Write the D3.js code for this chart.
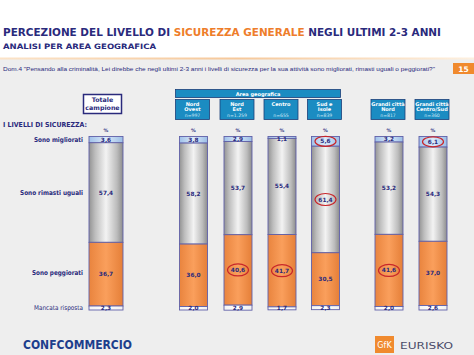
<!DOCTYPE html>
<html><head><meta charset="utf-8">
<script src="https://cdn.jsdelivr.net/npm/d3@7"></script>
<style>
html,body{margin:0;padding:0;background:#fff;}
svg{display:block;font-family:"DejaVu Sans",Verdana,sans-serif;}
</style></head>
<body>
<svg id="chart" width="474" height="355"></svg>
<script>
// ---- DATA ----
const categories = ["Totale campione","Nord Ovest","Nord Est","Centro","Sud e Isole","Grandi città Nord","Grandi città Centro/Sud"];
const migliorati = [3.6, 3.8, 2.9, 1.1, 5.6, 3.2, 6.1];
const uguali     = [57.4, 58.2, 53.7, 55.4, 61.4, 53.2, 54.3];
const peggiorati = [36.7, 36.0, 40.6, 41.7, 30.5, 41.6, 37.0];
const mancata    = [2.3, 2.0, 2.9, 1.7, 2.3, 2.0, 2.6];
const seriesKeys = ["migliorati","uguali","peggiorati","mancata"];
const seriesLabels = ["Sono migliorati","Sono rimasti uguali","Sono peggiorati","Mancata risposta"];
const headerTitles = [null, ["Nord","Ovest"], ["Nord","Est"], ["Centro",""], ["Sud e","Isole"], ["Grandi città","Nord"], ["Grandi città","Centro/Sud"]];
const sampleSizes = [null, "n=997", "n=1.259", "n=655", "n=839", "n=817", "n=360"];
// circled (significant) values: [category index, series key]
const highlighted = [[2,"peggiorati"],[3,"peggiorati"],[4,"migliorati"],[4,"uguali"],[5,"peggiorati"],[6,"migliorati"]];

// ---- LAYOUT ----
const W = 474, H = 355;
const navy = "#2a2a7c", orange = "#ee7d2a", boxBlue = "#1b8cc2";
const svg = d3.select("#chart");
const table = categories.map((c,i)=>({cat:c, migliorati:migliorati[i], uguali:uguali[i], peggiorati:peggiorati[i], mancata:mancata[i]}));
const stacked = d3.stack().keys(seriesKeys)(table);

const x = d3.scaleOrdinal(categories, [106, 193.5, 238, 282, 325.5, 389, 433]);
const y = d3.scaleLinear().domain([0,100]).range([136.5, 310]);
const barW = i => i === 0 ? 34 : 28;

// defs / gradients
const defs = svg.append("defs");
function grad(id, stops){
  const g = defs.append("linearGradient").attr("id",id).attr("x1",0).attr("x2",1).attr("y1",0).attr("y2",0);
  stops.forEach(s=>g.append("stop").attr("offset",s[0]).attr("stop-color",s[1]));
}
grad("gBlue",[[0,"#9fc1ea"],[0.5,"#dceaf9"],[1,"#9abde6"]]);
grad("gGrey",[[0,"#939393"],[0.18,"#bdbdbd"],[0.5,"#f3f3f3"],[0.82,"#bcbcbc"],[1,"#8c8c8c"]]);
grad("gOrange",[[0,"#e9843e"],[0.5,"#fa9f5c"],[1,"#e57f38"]]);
grad("gWhite",[[0,"#f4f4f4"],[0.5,"#ffffff"],[1,"#f0f0f0"]]);
grad("gLine",[[0,"#fbe3c8"],[0.5,"#f6c89a"],[1,"#fdf0e0"]]);
const fills = {migliorati:"url(#gBlue)", uguali:"url(#gGrey)", peggiorati:"url(#gOrange)", mancata:"url(#gWhite)"};

// backgrounds
svg.append("rect").attr("width",W).attr("height",H).attr("fill","#fff");
svg.append("rect").attr("y",59).attr("width",W).attr("height",H-59).attr("fill","#eeeeee");
svg.append("rect").attr("y",57.5).attr("width",W).attr("height",2).attr("fill","url(#gLine)");

// title
const t = svg.append("text").attr("x",3).attr("y",36).attr("font-size",10.2).attr("font-weight","bold")
  .attr("textLength",438).attr("lengthAdjust","spacingAndGlyphs");
t.append("tspan").attr("fill",navy).text("PERCEZIONE DEL LIVELLO DI ");
t.append("tspan").attr("fill",orange).text("SICUREZZA GENERALE");
t.append("tspan").attr("fill",navy).text(" NEGLI ULTIMI 2-3 ANNI");
svg.append("text").attr("x",3).attr("y",49).attr("font-size",7.4).attr("font-weight","bold").attr("fill",navy)
  .attr("textLength",153).attr("lengthAdjust","spacingAndGlyphs").text("ANALISI PER AREA GEOGRAFICA");

// question
svg.append("text").attr("x",3).attr("y",71).attr("font-size",5.9).attr("fill",navy)
  .style("font-family","'Liberation Sans', Arial, sans-serif")
  .attr("textLength",432).attr("lengthAdjust","spacingAndGlyphs")
  .text("Dom.4 \"Pensando alla criminalità, Lei direbbe che negli ultimi 2-3 anni i livelli di sicurezza per la sua attività sono migliorati, rimasti uguali o peggiorati?\"");
svg.append("rect").attr("x",453).attr("y",63).attr("width",21).attr("height",11).attr("fill","#f08a2e");
svg.append("text").attr("x",463.5).attr("y",71.5).attr("text-anchor","middle").attr("font-size",7.5).attr("font-weight","bold").attr("fill","#fff").text("15");

// header: totale box
svg.append("rect").attr("x",83.5).attr("y",94.5).attr("width",38).attr("height",19).attr("fill","#fff").attr("stroke",navy).attr("stroke-width",1.5);
svg.append("text").attr("x",102.5).attr("y",102).attr("text-anchor","middle").attr("font-size",6.3).attr("font-weight","bold").attr("fill",navy).text("Totale");
svg.append("text").attr("x",102.5).attr("y",110).attr("text-anchor","middle").attr("font-size",6.3).attr("font-weight","bold").attr("fill",navy).text("campione");

// area geografica bar
svg.append("rect").attr("x",175.5).attr("y",89.5).attr("width",165).attr("height",8).attr("fill",boxBlue).attr("stroke","#1b3f78").attr("stroke-width",0.8);
svg.append("text").attr("x",258).attr("y",95.6).attr("text-anchor","middle").attr("font-size",5).attr("font-weight","bold").attr("fill","#fff").text("Area geografica");

// sub header boxes
categories.forEach((c,i)=>{
  if(!headerTitles[i]) return;
  const cx = x(c) - 1;
  svg.append("rect").attr("x",cx-17).attr("y",99.5).attr("width",34).attr("height",20).attr("fill",boxBlue).attr("stroke","#1b3f78").attr("stroke-width",0.8);
  const lines = headerTitles[i];
  svg.append("text").attr("x",cx).attr("y",105.5).attr("text-anchor","middle").attr("font-size",5).attr("font-weight","bold").attr("fill","#fff").text(lines[0]);
  if(lines[1]) svg.append("text").attr("x",cx).attr("y",111).attr("text-anchor","middle").attr("font-size",5).attr("font-weight","bold").attr("fill","#fff").text(lines[1]);
  svg.append("text").attr("x",cx).attr("y",117).attr("text-anchor","middle").attr("font-size",4.6).attr("fill","#cfe7f5").text(sampleSizes[i]);
});

svg.append("text").attr("x",3).attr("y",127).attr("font-size",6.8).attr("font-weight","bold").attr("fill",navy)
  .attr("textLength",84).attr("lengthAdjust","spacingAndGlyphs").text("I LIVELLI DI SICUREZZA:");

// % labels
categories.forEach(c=>{
  svg.append("text").attr("x",x(c)).attr("y",131.5).attr("text-anchor","middle").attr("font-size",4.8).attr("font-weight","bold").attr("fill",navy).text("%");
});

// bars
const layers = svg.append("g").selectAll("g").data(stacked).join("g");
layers.selectAll("rect").data(s=>s.map((d,i)=>({d,i,key:s.key}))).join("rect")
  .attr("x",o=>x(categories[o.i]) - barW(o.i)/2)
  .attr("y",o=>y(o.d[0]))
  .attr("width",o=>barW(o.i))
  .attr("height",o=>Math.max(0.5, y(o.d[1]) - y(o.d[0])))
  .attr("fill",o=>fills[o.key])
  .attr("stroke","#6060a8").attr("stroke-width",0.9);

// value labels
const fmt = v => d3.format(".1f")(v).replace(".",",");
stacked.forEach(s=>{
  s.forEach((d,i)=>{
    const cx = x(categories[i]);
    let cy = (y(d[0]) + y(d[1]))/2;
    if(s.key==="mancata") cy = 308;
    if(s.key==="migliorati" && y(d[1]) - y(d[0]) < 5) cy = y(d[0]) + 2;
    const isHi = highlighted.some(h=>h[0]===i && h[1]===s.key);
    if(isHi){
      svg.append("ellipse").attr("cx",cx).attr("cy",cy).attr("rx",10.5).attr("ry",s.key==="migliorati"?5:6)
        .attr("fill","none").attr("stroke","#c8262a").attr("stroke-width",1.2);
    }
    svg.append("text").attr("x",cx).attr("y",cy).attr("dy","0.35em").attr("text-anchor","middle")
      .attr("font-size",5.8).attr("font-weight","bold").attr("fill",navy).text(fmt(d.data[s.key]));
  });
});

// row labels
const rowY = [139.5, 192.5, 273, 307.5];
const rowLen = [49, 63, 51, 49];
seriesLabels.forEach((l,k)=>{
  svg.append("text").attr("x",83).attr("y",rowY[k]).attr("dy","0.35em").attr("text-anchor","end")
    .attr("font-size",6.6).attr("font-weight",k===3?"normal":"bold").attr("fill",navy)
    .attr("textLength",rowLen[k]).attr("lengthAdjust","spacingAndGlyphs").text(l);
});

// footer logos
svg.append("text").attr("x",23).attr("y",348.5).attr("font-size",11.5).attr("font-weight","bold").attr("fill","#1d3e8c")
  .attr("textLength",109).attr("lengthAdjust","spacingAndGlyphs").text("CONFCOMMERCIO");
svg.append("rect").attr("x",375).attr("y",336).attr("width",19).attr("height",17).attr("fill","#f08a2e");
svg.append("text").attr("x",384.5).attr("y",348).attr("text-anchor","middle").attr("font-size",8).attr("fill","#fff").text("GfK");
svg.append("text").attr("x",400).attr("y",348.5).attr("font-size",9.5).attr("fill","#4a4a68")
  .attr("textLength",53).attr("lengthAdjust","spacingAndGlyphs").text("EURISKO");
</script>
</body></html>
